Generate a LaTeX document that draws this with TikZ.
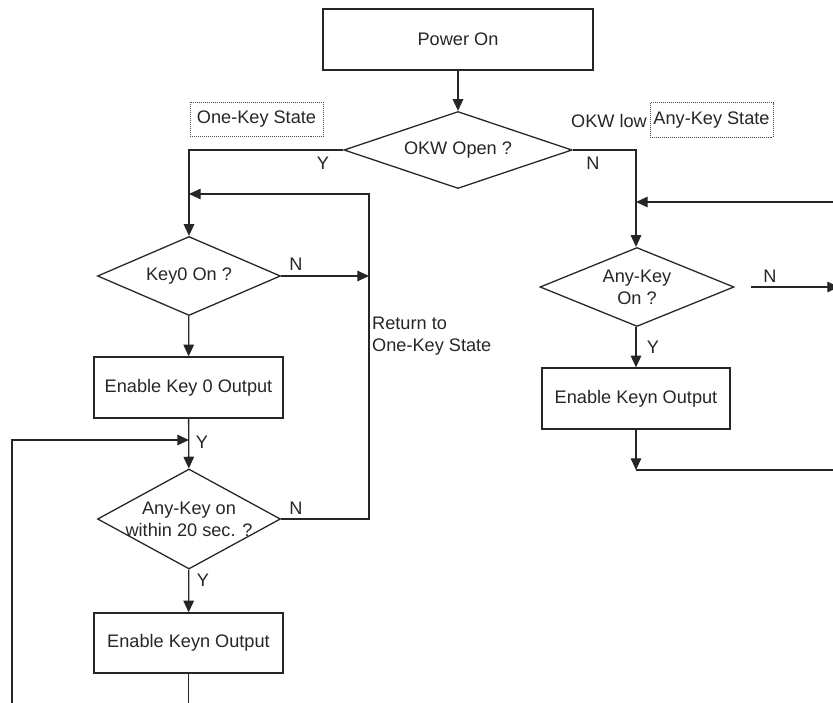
\documentclass[tikz,border=0pt]{standalone}
\usepackage{fontspec}
\setmainfont{Liberation Sans}
\usetikzlibrary{shapes.geometric, arrows.meta}
\tikzstyle{every node}=[font=\fontsize{15.5}{19}\selectfont]
\tikzset{BoxStyle/.style = {
			      shape          = rectangle,
			      draw           = black!85,
			      line width     = 1.1pt,
			      text           = black!85,
			      inner sep      = 0pt,
			      minimum width  = 5.67cm,
			      minimum height = 1.83cm}
						}
\tikzset{DecisionStyle/.style = {
			      shape          = diamond,
			      draw           = black!85,
			      line width     = 1.1pt,
			      inner sep      = 0pt,
			      minimum width  = 5.49cm,
			      minimum height = 2.37cm,
			      label          = {[LabelStyle, align=center]center:#1}}
						}
\tikzset{StateStyle/.style = {
			      shape          = rectangle,
			      draw           = black!70,
			      densely dotted,
			      line width     = 0.7pt,
			      text           = black!85,
			      inner sep      = 0pt,
			      minimum height = 1.04cm}
						}
\tikzset{EdgeStyle/.style   = {line width=1.1pt, draw=black!85}}
\tikzset{ArrowStyle/.style  = {EdgeStyle, -{Triangle[length=10pt,width=9pt]}}}
\tikzset{LabelStyle/.style =   {
				  text           = black!85,
				  inner sep      = 0pt,
				  align          = left}
					}

\begin{document}
\begin{tikzpicture}[x=0.03cm,y=-0.03cm]
	\useasboundingbox (0,0) rectangle (833,703);

	% main column
	\node[BoxStyle, minimum width=8.1cm]   (Power) at (458,39.5) {Power On};
	\node[DecisionStyle={OKW Open ?}, minimum width=6.84cm, minimum height=2.31cm] (Okw) at (458,150) {};

	% one-key branch
	\node[DecisionStyle={Key0 On ?}]   (Key0) at (189,276) {};
	\node[BoxStyle]        (Key0Out) at (188.5,387.5) {Enable Key 0 Output};
	\node[DecisionStyle={Any-Key on\\within 20 sec. ?}, minimum height=3cm] (Within) at (189,519) {};
	\node[BoxStyle, minimum height=1.8cm]   (KeynL) at (188.5,643) {Enable Keyn Output};

	% any-key branch
	\node[DecisionStyle={Any-Key\\On ?}, minimum width=5.82cm] (AnyOn) at (637,287) {};
	\node[BoxStyle, minimum width=5.64cm]  (KeynR) at (636,398.5) {Enable Keyn Output};

	% state tags
	\node[StateStyle, minimum width=3.99cm] (OneState) at (256.5,119.5) {One-Key State};
	\node[StateStyle, minimum width=3.69cm] (AnyState) at (711.5,120) {Any-Key State};
	\node[LabelStyle] (OkwLow) at (609,121) {OKW low};
	\node[LabelStyle, anchor=west] (Return) at (372,336) {Return to\\One-Key State};

	% loose ends
	\coordinate (RetTop)    at (369,194);
	\coordinate (RetJoin)   at (189,194);
	\coordinate (RetMid)    at (369,276);
	\coordinate (LoopBot)   at (12,703);
	\coordinate (LoopJoin)  at (189,440);
	\coordinate (RightIn)   at (833,202);
	\coordinate (RightJoin) at (636,202);
	\coordinate (NoStart)   at (751,287);
	\coordinate (NoEnd)     at (839,287);
	\coordinate (RightBot)  at (636,470);
	\coordinate (RightOut)  at (833,470);

	\draw[ArrowStyle] (Power) -- (Okw);
	\draw[ArrowStyle] (Okw.west) -| (Key0.north);
	\draw[ArrowStyle] (Okw.east) -| (RightJoin |- AnyOn.north);

	\draw[ArrowStyle] (Key0.east) -- (RetMid);
	\draw[ArrowStyle] (Within.east) -| (RetTop) -- (RetJoin);
	\draw[ArrowStyle] (Key0) -- (Key0Out);
	\draw[ArrowStyle] (Key0Out) -- (Within);
	\draw[ArrowStyle] (LoopBot) |- (LoopJoin);
	\draw[ArrowStyle] (Within) -- (KeynL);
	\draw[EdgeStyle]  (KeynL.south) -- (KeynL.south |- LoopBot);

	\draw[ArrowStyle] (RightIn) -- (RightJoin);
	\draw[ArrowStyle] (NoStart) -- (NoEnd);
	\draw[ArrowStyle] (AnyOn.south -| KeynR) -- (KeynR);
	\draw[ArrowStyle] (KeynR) -- (RightBot);
	\draw[EdgeStyle]  (RightBot) -- (RightOut);

	% Y / N marks
	\node[LabelStyle] (YOkw)    at (323,163) {Y};
	\node[LabelStyle] (NOkw)    at (593,163) {N};
	\node[LabelStyle] (NKey0)   at (296,264) {N};
	\node[LabelStyle] (YLoop)   at (202,442) {Y};
	\node[LabelStyle] (NWithin) at (296,508) {N};
	\node[LabelStyle] (YWithin) at (203,580) {Y};
	\node[LabelStyle] (NAnyOn)  at (770,276) {N};
	\node[LabelStyle] (YAnyOn)  at (653,347) {Y};

\end{tikzpicture}
\end{document}
